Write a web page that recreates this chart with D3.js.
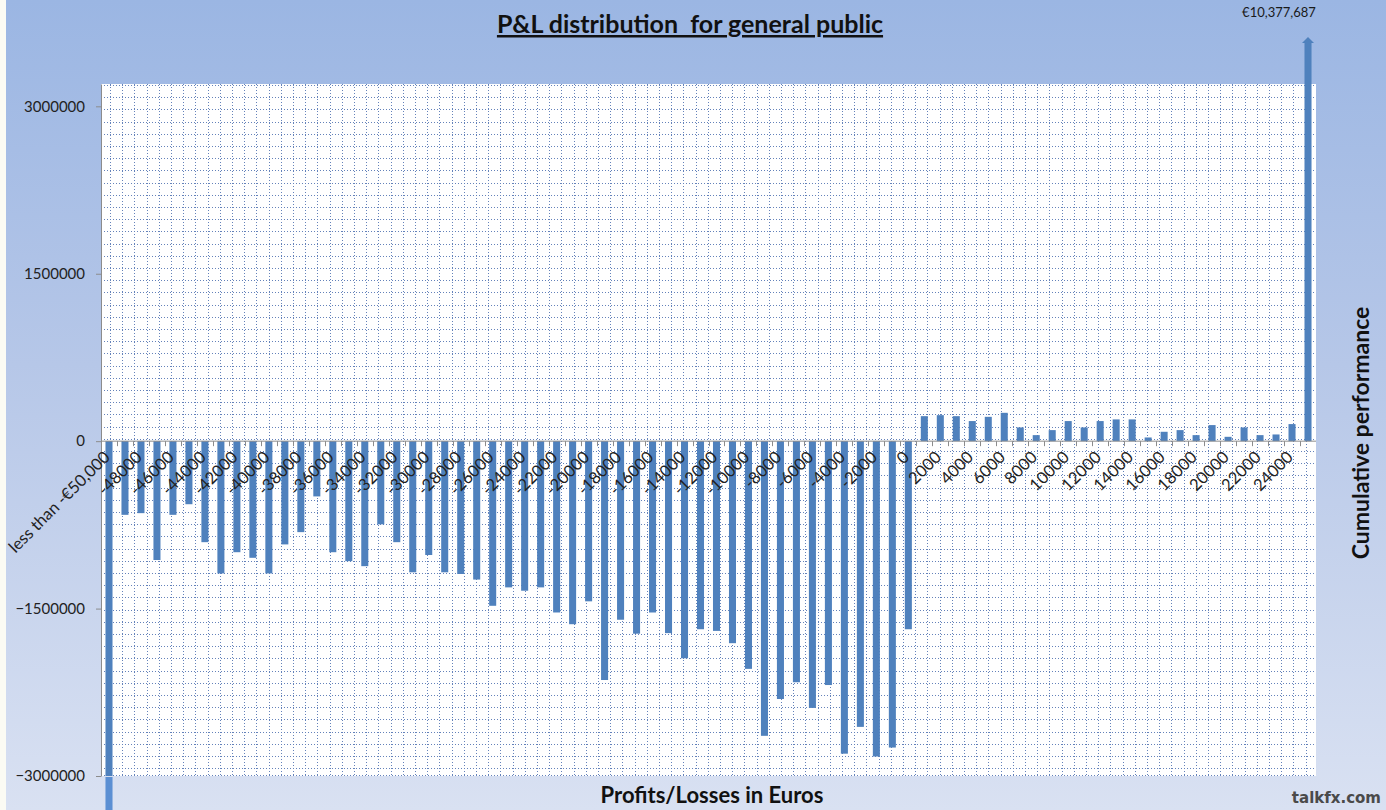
<!DOCTYPE html>
<html>
<head>
<meta charset="utf-8">
<script src="https://cdn.jsdelivr.net/npm/d3@7"></script>
<style>
  html, body { margin: 0; padding: 0; background: #ffffff; }
  svg { display: block; }
  text { font-family: Lato, "Open Sans", "Liberation Sans", sans-serif; }
</style>
</head>
<body>
<svg id="chart" width="1386" height="810"></svg>
<script>
// ---------- DATA ----------
const categories = [
  "less than -€50,000", "-49000", "-48000", "-47000", "-46000", "-45000", "-44000", "-43000", "-42000", "-41000",
  "-40000", "-39000", "-38000", "-37000", "-36000", "-35000", "-34000", "-33000", "-32000", "-31000",
  "-30000", "-29000", "-28000", "-27000", "-26000", "-25000", "-24000", "-23000", "-22000", "-21000",
  "-20000", "-19000", "-18000", "-17000", "-16000", "-15000", "-14000", "-13000", "-12000", "-11000",
  "-10000", "-9000", "-8000", "-7000", "-6000", "-5000", "-4000", "-3000", "-2000", "-1000",
  "0", "1000", "2000", "3000", "4000", "5000", "6000", "7000", "8000", "9000",
  "10000", "11000", "12000", "13000", "14000", "15000", "16000", "17000", "18000", "19000",
  "20000", "21000", "22000", "23000", "24000", "Cumulative performance"
];
const values = [
  -3400000, -660000, -645000, -1065000, -660000, -565000, -905000, -1185000, -995000, -1045000,
  -1185000, -925000, -815000, -495000, -995000, -1075000, -1120000, -745000, -905000, -1175000,
  -1020000, -1175000, -1190000, -1240000, -1475000, -1310000, -1340000, -1310000, -1535000, -1640000,
  -1435000, -2140000, -1600000, -1725000, -1535000, -1720000, -1945000, -1685000, -1700000, -1810000,
  -2040000, -2640000, -2310000, -2160000, -2390000, -2185000, -2800000, -2560000, -2825000, -2745000,
  -1685000, 224000, 233000, 224000, 180000, 218000, 254000, 123000, 54000, 99000,
  180000, 123000, 180000, 195000, 195000, 33000, 84000, 99000, 54000, 144000,
  39000, 123000, 54000, 60000, 153000, 10377687
];
const yTickValues = [-3000000, -1500000, 0, 1500000, 3000000];
const yDomain = [-3000000, 3200000];
const cumulativeCap = 3620000;   // where the off-scale arrow is drawn
const cumulativeLabel = "€10,377,687";
const titleText = "P&L distribution  for general public";
const xTitle = "Profits/Losses in Euros";
const yRightTitle = "Cumulative performance";
const watermark = "talkfx.com";

// ---------- LAYOUT ----------
const W = 1386, H = 810;
const plot = { left: 101, right: 1316, top: 84, bottom: 776 };
const svg = d3.select("#chart");

const defs = svg.append("defs");
const bg = defs.append("linearGradient").attr("id", "bgGrad")
  .attr("x1", 0).attr("y1", 0).attr("x2", 0).attr("y2", 1);
bg.append("stop").attr("offset", "0%").attr("stop-color", "#9bb6e3");
bg.append("stop").attr("offset", "45%").attr("stop-color", "#b6c7e8");
bg.append("stop").attr("offset", "100%").attr("stop-color", "#d9e1f2");

svg.append("rect").attr("width", W).attr("height", H).attr("fill", "url(#bgGrad)");
svg.append("rect").attr("x", 0).attr("y", 0).attr("width", 6).attr("height", H).attr("fill", "#fbfbf4");

// plot area
svg.append("rect").attr("x", plot.left).attr("y", plot.top)
  .attr("width", plot.right - plot.left).attr("height", plot.bottom - plot.top)
  .attr("fill", "#ffffff");

// scales
const x = d3.scaleBand().domain(categories).range([plot.left, plot.right])
  .paddingInner(0.56).paddingOuter(0.28);
const y = d3.scaleLinear().domain(yDomain).range([plot.bottom, plot.top]);

// dotted grid pattern (plot-area fill)
const gridStep = 12.2;
const gridG = svg.append("g").attr("stroke", "#6482ba").attr("stroke-width", 1)
  .attr("stroke-dasharray", "1,2");
d3.range(plot.top + 1, plot.bottom + 1, gridStep).forEach(gy => {
  gridG.append("line").attr("x1", plot.left).attr("x2", plot.right)
    .attr("y1", Math.round(gy) + 0.5).attr("y2", Math.round(gy) + 0.5);
});
gridG.append("line").attr("x1", plot.left).attr("x2", plot.right)
  .attr("y1", plot.bottom - 0.5).attr("y2", plot.bottom - 0.5);
d3.range(plot.left + 9, plot.right, gridStep).forEach(gx => {
  gridG.append("line").attr("y1", plot.top).attr("y2", plot.bottom)
    .attr("x1", Math.round(gx) + 0.5).attr("x2", Math.round(gx) + 0.5);
});

// bars
const barColor = "#4f81bd";
const data = categories.map((c, i) => ({ c, v: values[i], i }));
const last = categories.length - 1;

const barsG = svg.append("g");
data.forEach(d => {
  let v = d.v;
  if (d.i === last) v = Math.min(v, cumulativeCap);
  const y0 = y(0), y1 = y(v);
  const top = Math.min(y0, y1), h = Math.abs(y1 - y0);
  if (d.i === last) {
    // shaft + arrow head for off-scale cumulative value
    const bx = x(d.c), bw = x.bandwidth();
    barsG.append("rect").attr("x", bx).attr("y", top + 5).attr("width", bw).attr("height", h - 5)
      .attr("fill", barColor);
    const cx = bx + bw / 2;
    barsG.append("path")
      .attr("d", `M${cx - 6},${top + 6} L${cx},${top} L${cx + 6},${top + 6} Z`)
      .attr("fill", barColor);
    svg.append("text").attr("x", cx - 29).attr("y", 17)
      .attr("text-anchor", "middle").attr("font-size", 13).attr("fill", "#1a1a1a")
      .text(cumulativeLabel);
  } else if (y1 > plot.bottom) {
    // portion inside plot, then overflow below plot area
    barsG.append("rect").attr("x", x(d.c)).attr("y", y0).attr("width", x.bandwidth())
      .attr("height", plot.bottom - y0).attr("fill", barColor);
    barsG.append("rect").attr("x", x(d.c)).attr("y", plot.bottom + 1).attr("width", x.bandwidth())
      .attr("height", y1 - plot.bottom).attr("fill", "#5b8fd3");
  } else {
    barsG.append("rect").attr("x", x(d.c)).attr("y", top).attr("width", x.bandwidth())
      .attr("height", h).attr("fill", barColor);
  }
});

// y axis
const yAxis = d3.axisLeft(y).tickValues(yTickValues).tickFormat(d3.format("d"))
  .tickSize(5).tickSizeOuter(0);
const yg = svg.append("g").attr("transform", `translate(${plot.left},0)`).call(yAxis);
yg.select(".domain").attr("stroke", "#8c8c8c");
yg.selectAll(".tick line").attr("stroke", "#8c8c8c");
yg.selectAll(".tick text").attr("font-size", 15).attr("fill", "#222").attr("dx", -8)
  .style("font-family", "Lato, 'Open Sans', sans-serif");

// x axis at zero
const xg = svg.append("g").attr("transform", `translate(0,${y(0)})`);
xg.append("line").attr("x1", plot.left).attr("x2", plot.right).attr("stroke", "#8c8c8c");
const step = x.step();
categories.forEach((c, i) => {
  const bx = x(c) - (step - x.bandwidth()) / 2;
  xg.append("line").attr("x1", Math.round(bx) + 0.5).attr("x2", Math.round(bx) + 0.5)
    .attr("y1", 0).attr("y2", 5).attr("stroke", "#8c8c8c");
});
categories.forEach((c, i) => {
  if (i % 2 !== 0 || i === last) return;
  const cx = x(c) + x.bandwidth() / 2;
  xg.append("text")
    .attr("transform", `translate(${cx + 2},${17}) rotate(-45)`)
    .attr("text-anchor", "end").attr("font-size", 16.5).attr("fill", "#222")
    .text(c);
});

// titles
svg.append("text").attr("x", 690).attr("y", 33).attr("text-anchor", "middle")
  .attr("font-size", 25).attr("font-weight", "bold").attr("fill", "#111")
  .attr("text-decoration", "underline").style("white-space", "pre")
  .text(titleText);
svg.append("text").attr("x", 712).attr("y", 803).attr("text-anchor", "middle")
  .attr("font-size", 22).attr("font-weight", "bold").attr("fill", "#111")
  .text(xTitle);
svg.append("text").attr("transform", `translate(1369,433) rotate(-90)`)
  .attr("text-anchor", "middle").attr("font-size", 23).attr("font-weight", "bold").attr("fill", "#111")
  .text(yRightTitle);
svg.append("text").attr("x", 1381).attr("y", 803).attr("text-anchor", "end")
  .attr("font-size", 15).attr("font-weight", "bold").attr("fill", "#4a4a4a")
  .style("font-family", "'DejaVu Sans', sans-serif")
  .text(watermark);
</script>
</body>
</html>
